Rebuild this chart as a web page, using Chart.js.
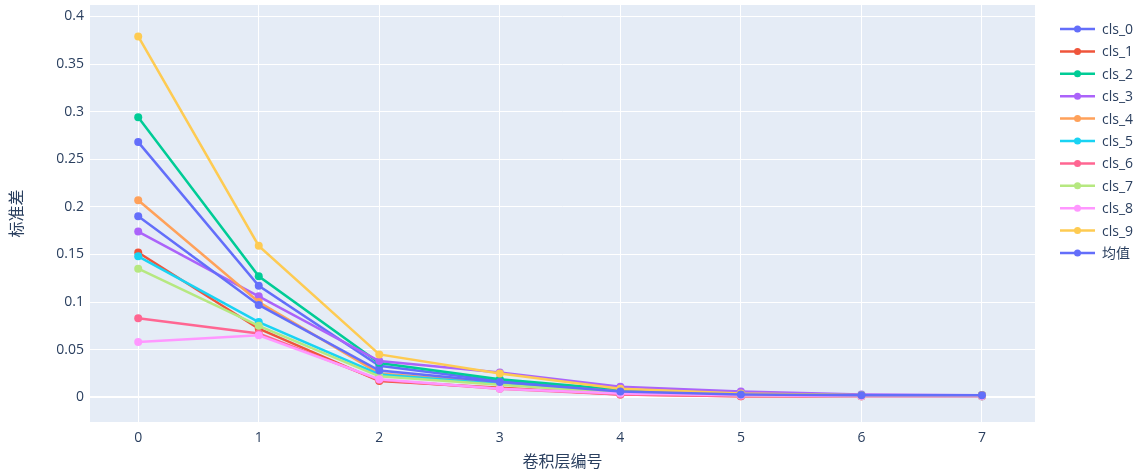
<!DOCTYPE html>
<html>
<head>
<meta charset="utf-8">
<script src="https://cdn.jsdelivr.net/npm/chart.js@4.4.1/dist/chart.umd.min.js"></script>
<style>
  html, body { margin: 0; padding: 0; background: #fff; }
  #wrap { width: 1141px; height: 474px; }
</style>
</head>
<body>
<div id="wrap"><canvas id="chart" width="1141" height="474"></canvas></div>
<script>
// ===== DATA =====
const layers = [0, 1, 2, 3, 4, 5, 6, 7];
const xTicks = [0, 1, 2, 3, 4, 5, 6, 7];
const yTicks = [0, 0.05, 0.1, 0.15, 0.2, 0.25, 0.3, 0.35, 0.4];

const seriesNames = ['cls_0', 'cls_1', 'cls_2', 'cls_3', 'cls_4', 'cls_5', 'cls_6', 'cls_7', 'cls_8', 'cls_9', '均值'];

const cls0 = [0.268, 0.117, 0.033, 0.017, 0.007, 0.004, 0.002, 0.002];
const cls1 = [0.152, 0.072, 0.017, 0.010, 0.003, 0.001, 0.001, 0.001];
const cls2 = [0.294, 0.127, 0.036, 0.019, 0.008, 0.004, 0.002, 0.002];
const cls3 = [0.174, 0.106, 0.038, 0.026, 0.011, 0.006, 0.003, 0.002];
const cls4 = [0.207, 0.100, 0.025, 0.015, 0.006, 0.003, 0.002, 0.002];
const cls5 = [0.148, 0.079, 0.024, 0.014, 0.005, 0.003, 0.002, 0.001];
const cls6 = [0.083, 0.067, 0.018, 0.009, 0.003, 0.001, 0.001, 0.001];
const cls7 = [0.135, 0.075, 0.022, 0.013, 0.005, 0.002, 0.001, 0.001];
const cls8 = [0.058, 0.065, 0.019, 0.009, 0.004, 0.002, 0.001, 0.001];
const cls9 = [0.379, 0.159, 0.045, 0.025, 0.009, 0.004, 0.002, 0.002];
const meanVals = [0.190, 0.097, 0.028, 0.016, 0.006, 0.003, 0.002, 0.002];

const seriesValues = [cls0, cls1, cls2, cls3, cls4, cls5, cls6, cls7, cls8, cls9, meanVals];

// plotly default colorway
const colors = ['#636efa', '#EF553B', '#00cc96', '#ab63fa', '#FFA15A', '#19d3f3', '#FF6692', '#B6E880', '#FF97FF', '#FECB52', '#636efa'];

const FONT = '"Open Sans", "Noto Sans CJK SC", sans-serif';
const TEXT = '#2a3f5f';

// ===== PLUGINS =====
const plotBg = {
  id: 'plotBg',
  beforeDraw(chart) {
    const { ctx, chartArea: a } = chart;
    ctx.save();
    ctx.fillStyle = '#E5ECF6';
    ctx.fillRect(a.left, a.top, a.right - a.left, a.bottom - a.top);
    ctx.restore();
  }
};

const sideLegend = {
  id: 'sideLegend',
  afterDraw(chart) {
    const { ctx } = chart;
    ctx.save();
    ctx.font = '14px ' + FONT;
    ctx.textBaseline = 'middle';
    chart.data.datasets.forEach((ds, i) => {
      const y = 29 + i * 22.4;
      ctx.strokeStyle = ds.borderColor;
      ctx.lineWidth = 2.5;
      ctx.beginPath();
      ctx.moveTo(1060, y);
      ctx.lineTo(1095, y);
      ctx.stroke();
      ctx.fillStyle = ds.borderColor;
      ctx.beginPath();
      ctx.arc(1077.5, y, 3.5, 0, Math.PI * 2);
      ctx.fill();
      ctx.fillStyle = TEXT;
      ctx.fillText(ds.label, 1102, y + 1);
    });
    ctx.restore();
  }
};

// ===== CHART =====
const datasets = seriesNames.map((name, i) => ({
  label: name,
  data: layers.map((x, j) => ({ x, y: seriesValues[i][j] })),
  borderColor: colors[i],
  backgroundColor: colors[i],
  borderWidth: 2.5,
  pointRadius: 4,
  pointHoverRadius: 4,
  pointBorderWidth: 0,
  tension: 0,
  order: seriesNames.length - i
}));

new Chart(document.getElementById('chart'), {
  type: 'line',
  data: { datasets },
  options: {
    responsive: false,
    animation: false,
    layout: { padding: { left: 0, top: 5, right: 106, bottom: 0 } },
    plugins: {
      legend: { display: false },
      tooltip: { enabled: false }
    },
    scales: {
      x: {
        type: 'linear',
        min: -0.4,
        max: 7.44,
        afterBuildTicks: s => { s.ticks = xTicks.map(v => ({ value: v })); },
        afterFit: s => { s.height = 52; s.paddingLeft = 0; s.paddingRight = 0; },
        grid: { color: '#ffffff', lineWidth: 1, drawTicks: false },
        border: { display: false },
        ticks: { color: TEXT, font: { family: FONT, size: 14 }, padding: 8, maxRotation: 0 },
        title: { display: true, text: '卷积层编号', color: TEXT, font: { family: FONT, size: 16 }, padding: { top: 0, bottom: 2 } }
      },
      y: {
        min: -0.026,
        max: 0.412,
        afterBuildTicks: s => { s.ticks = yTicks.map(v => ({ value: v })); },
        afterFit: s => { s.width = 90; s.paddingTop = 0; s.paddingBottom = 0; },
        grid: {
          color: '#ffffff',
          lineWidth: ctx => (ctx.tick && ctx.tick.value === 0 ? 2 : 1),
          drawTicks: false
        },
        border: { display: false },
        ticks: {
          color: TEXT,
          font: { family: FONT, size: 14 },
          padding: 6,
          callback: v => String(Number(v.toFixed(2)))
        },
        title: { display: true, text: '标准差', color: TEXT, font: { family: FONT, size: 16 }, padding: { top: 8, bottom: 0 } }
      }
    }
  },
  plugins: [plotBg, sideLegend]
});
</script>
</body>
</html>
